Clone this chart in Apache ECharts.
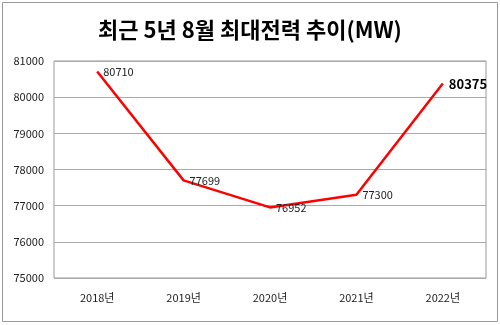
<!DOCTYPE html>
<html><head><meta charset="utf-8">
<script src="https://cdn.jsdelivr.net/npm/echarts@6/dist/echarts.min.js"></script>
<style>html,body{margin:0;padding:0;background:#fff}#c{width:500px;height:325px}</style>
</head><body><div id="c"></div>
<script>
const categories = ['2018년','2019년','2020년','2021년','2022년'];
const values = [80710, 77699, 76952, 77300, 80375];
const yTicks = [75000, 76000, 77000, 78000, 79000, 80000, 81000];

const chart = echarts.init(document.getElementById('c'));
const font = '"Noto Sans CJK KR", "Noto Sans", sans-serif';
chart.setOption({
  animation: false,
  textStyle: {fontFamily: font},
  title: {
    text: '최근 5년 8월 최대전력 추이(MW)',
    left: 'center', top: 14,
    textStyle: {fontSize: 22, fontWeight: 'bold', color: '#000', fontFamily: font}
  },
  graphic: [{
    type: 'rect', shape: {x: 2.5, y: 2.5, width: 495, height: 319},
    style: {fill: 'none', stroke: '#999', lineWidth: 1}, silent: true, z: -1
  }],
  grid: {left: 54, right: 14, top: 61, bottom: 47, show: true, borderColor: '#999', borderWidth: 1},
  xAxis: {
    type: 'category', data: categories, boundaryGap: true,
    axisLine: {show: false}, axisTick: {show: false},
    axisLabel: {fontSize: 11, color: '#222', margin: 14, fontFamily: font}
  },
  yAxis: {
    type: 'value', min: yTicks[0], max: yTicks[yTicks.length - 1], interval: 1000,
    axisLine: {show: false}, axisTick: {show: false},
    axisLabel: {fontSize: 11, color: '#222', margin: 10, fontFamily: font, formatter: v => String(v)},
    splitLine: {lineStyle: {color: '#aaa', width: 1}}
  },
  series: [{
    type: 'line', data: values.map((v, i) => {
      const big = i === 4 ? {fontSize: 13, fontWeight: 'bold', color: '#000'} : {};
      const pos = [[4, -3], [4, 7], [4, 9], [4, 6], [2, -2]][i];
      return {value: v, label: Object.assign({show: true, position: 'right', offset: pos}, big)};
    }),
    symbol: 'circle', symbolSize: 2, showSymbol: true,
    itemStyle: {color: 'rgba(255,0,0,0)', borderWidth: 0},
    lineStyle: {color: '#ff0000', width: 2.5},
    label: {show: true, position: 'right', fontSize: 11, color: '#222', fontFamily: font, formatter: p => String(p.value)},
    labelLayout: {hideOverlap: false}
  }]
});
</script></body></html>
